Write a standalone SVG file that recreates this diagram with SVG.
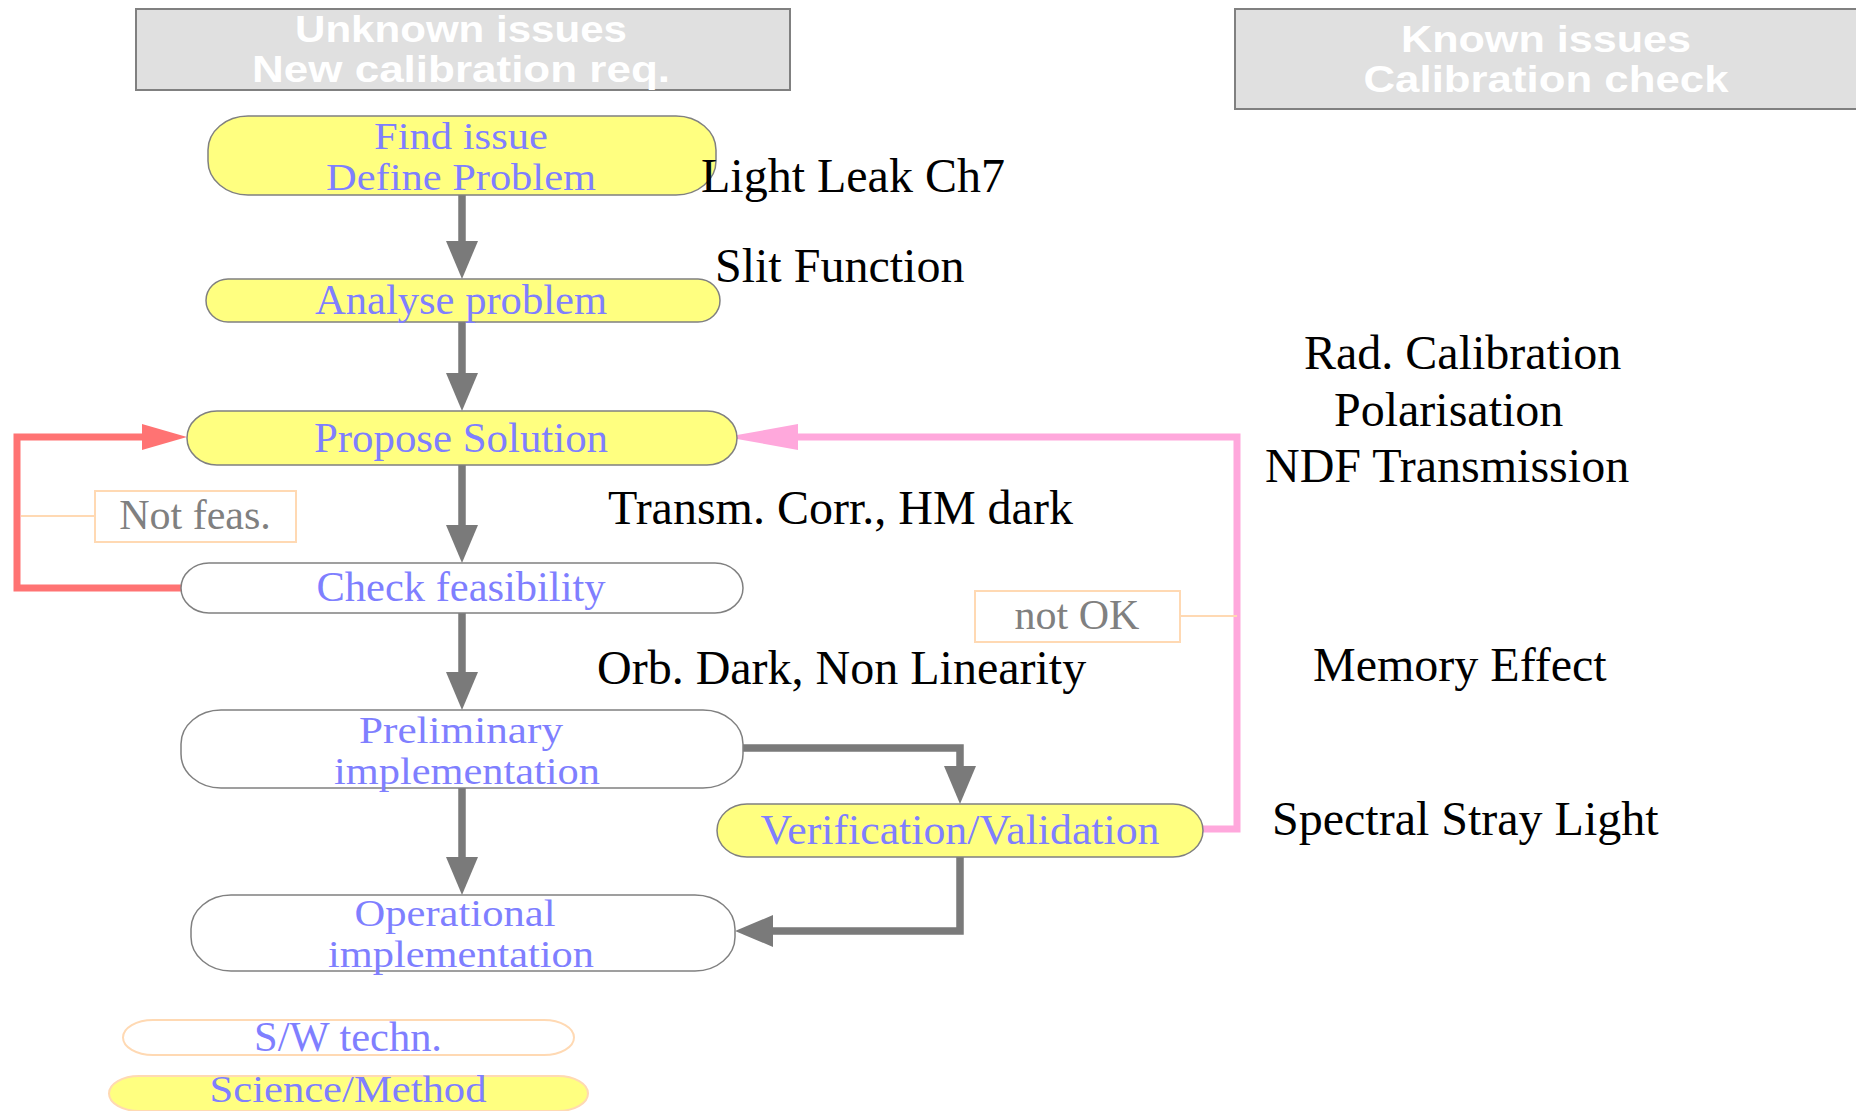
<svg xmlns="http://www.w3.org/2000/svg" width="1856" height="1111" viewBox="0 0 1856 1111">
<style>
.hdr{fill:#e0e0e0;stroke:#808080;stroke-width:2}
.hdrt{font-family:"Liberation Sans",Arial,sans-serif;font-weight:bold;font-size:36px;fill:#ffffff;text-anchor:middle}
.sci{fill:#ffff80;stroke:#808080;stroke-width:1.5}
.sw{fill:#ffffff;stroke:#808080;stroke-width:1.5}
.lt{font-family:"Liberation Serif","Times New Roman",serif;font-size:42px;fill:#7f7fff;text-anchor:middle}
.lt2{font-family:"Liberation Serif","Times New Roman",serif;font-size:37px;fill:#7f7fff;text-anchor:middle}
.note{font-family:"Liberation Serif","Times New Roman",serif;font-size:48px;fill:#000000}
.tag{fill:#ffffff;stroke:#ffd9b3;stroke-width:2}
.tagt{font-family:"Liberation Serif","Times New Roman",serif;font-size:42px;fill:#808080;text-anchor:middle}
.gc{fill:none;stroke:#7a7a7a;stroke-width:7.5;marker-end:url(#ag)}
</style>
<defs>
<marker id="ag" markerUnits="userSpaceOnUse" viewBox="0 0 40 32" markerWidth="40" markerHeight="32" refX="8" refY="16" orient="auto">
<path d="M0,0 L38,16 L0,32 z" fill="#7a7a7a"/>
</marker>
<marker id="ar" markerUnits="userSpaceOnUse" viewBox="0 0 46 26" markerWidth="46" markerHeight="26" refX="6" refY="13" orient="auto">
<path d="M0,0 L45,13 L0,26 z" fill="#ff7373"/>
</marker>
<marker id="ap" markerUnits="userSpaceOnUse" viewBox="0 0 62 26" markerWidth="62" markerHeight="26" refX="6" refY="13" orient="auto">
<path d="M0,0 L61,11 L61,15 L0,26 z" fill="#ffa8dc"/>
</marker>
</defs>
<rect width="1856" height="1111" fill="#ffffff"/>

<g id="header-unknown">
<rect class="hdr" x="136" y="9" width="654" height="81"/>
<text class="hdrt" x="461" y="42" textLength="332" lengthAdjust="spacingAndGlyphs">Unknown issues</text>
<text class="hdrt" x="461" y="82" textLength="418" lengthAdjust="spacingAndGlyphs">New calibration req.</text>
</g>
<g id="header-known">
<rect class="hdr" x="1235" y="9" width="630" height="100"/>
<text class="hdrt" x="1546" y="52" textLength="290" lengthAdjust="spacingAndGlyphs">Known issues</text>
<text class="hdrt" x="1546" y="92" textLength="365" lengthAdjust="spacingAndGlyphs">Calibration check</text>
</g>

<g id="connectors">
<path class="gc" d="M462,195 V249"/>
<path class="gc" d="M462,322 V381"/>
<path class="gc" d="M462,465 V533"/>
<path class="gc" d="M462,613 V680"/>
<path class="gc" d="M462,788 V865"/>
<path class="gc" d="M743,748 H960 V774"/>
<path class="gc" d="M960,857 V931 H765"/>
<path d="M181,588 H17 V437 H148" fill="none" stroke="#ff7373" stroke-width="7" marker-end="url(#ar)"/>
<path d="M1203,829 H1237 V437 H792" fill="none" stroke="#ffa8dc" stroke-width="7" marker-end="url(#ap)"/>
<path d="M21,516 H95" fill="none" stroke="#ffd9b3" stroke-width="2"/>
<path d="M1180,616 H1237" fill="none" stroke="#ffd9b3" stroke-width="2"/>
</g>

<g id="find-issue">
<rect class="sci" x="208" y="116" width="508" height="79" rx="40" ry="34"/>
<text class="lt2" x="461" y="149" textLength="174" lengthAdjust="spacingAndGlyphs">Find issue</text>
<text class="lt2" x="461" y="190" textLength="270" lengthAdjust="spacingAndGlyphs">Define Problem</text>
</g>
<g id="analyse-problem">
<rect class="sci" x="206" y="279" width="514" height="43" rx="22" ry="21.5"/>
<text class="lt" x="461" y="314" textLength="292" lengthAdjust="spacingAndGlyphs">Analyse problem</text>
</g>
<g id="propose-solution">
<rect class="sci" x="187" y="411" width="550" height="54" rx="30" ry="27"/>
<text class="lt" x="461" y="452" textLength="294" lengthAdjust="spacingAndGlyphs">Propose Solution</text>
</g>
<g id="check-feasibility">
<rect class="sw" x="181" y="563" width="562" height="50" rx="28" ry="25"/>
<text class="lt" x="461" y="601" textLength="289" lengthAdjust="spacingAndGlyphs">Check feasibility</text>
</g>
<g id="preliminary-implementation">
<rect class="sw" x="181" y="710" width="562" height="78" rx="40" ry="34"/>
<text class="lt2" x="461" y="743" textLength="204" lengthAdjust="spacingAndGlyphs">Preliminary</text>
<text class="lt2" x="467" y="784" textLength="266" lengthAdjust="spacingAndGlyphs">implementation</text>
</g>
<g id="verification-validation">
<rect class="sci" x="717" y="804" width="486" height="53" rx="30" ry="26.5"/>
<text class="lt" x="960" y="844" textLength="399" lengthAdjust="spacingAndGlyphs">Verification/Validation</text>
</g>
<g id="operational-implementation">
<rect class="sw" x="191" y="895" width="544" height="76" rx="40" ry="34"/>
<text class="lt2" x="455" y="926" textLength="201" lengthAdjust="spacingAndGlyphs">Operational</text>
<text class="lt2" x="461" y="967" textLength="266" lengthAdjust="spacingAndGlyphs">implementation</text>
</g>
<g id="not-feas">
<rect class="tag" x="95" y="491" width="201" height="51"/>
<text class="tagt" x="195" y="529">Not feas.</text>
</g>
<g id="not-ok">
<rect class="tag" x="975" y="591" width="205" height="51"/>
<text class="tagt" x="1077" y="629">not OK</text>
</g>
<g id="legend-sw">
<rect x="123" y="1020" width="451" height="35" rx="30" ry="17.5" fill="#ffffff" stroke="#ffd9b3" stroke-width="2"/>
<text class="lt" x="348" y="1051" textLength="188" lengthAdjust="spacingAndGlyphs">S/W techn.</text>
</g>
<g id="legend-science">
<rect x="109" y="1076" width="479" height="35" rx="30" ry="17.5" fill="#ffff80" stroke="#ffd9b3" stroke-width="2"/>
<text class="lt2" x="348" y="1102" textLength="277" lengthAdjust="spacingAndGlyphs">Science/Method</text>
</g>

<g id="notes">
<text class="note" x="701" y="192">Light Leak Ch7</text>
<text class="note" x="715" y="282">Slit Function</text>
<text class="note" x="1304" y="369">Rad. Calibration</text>
<text class="note" x="1334" y="426">Polarisation</text>
<text class="note" x="1265" y="482">NDF Transmission</text>
<text class="note" x="608" y="524">Transm. Corr., HM dark</text>
<text class="note" x="597" y="684">Orb. Dark, Non Linearity</text>
<text class="note" x="1313" y="681">Memory Effect</text>
<text class="note" x="1272" y="835">Spectral Stray Light</text>
</g>
</svg>
